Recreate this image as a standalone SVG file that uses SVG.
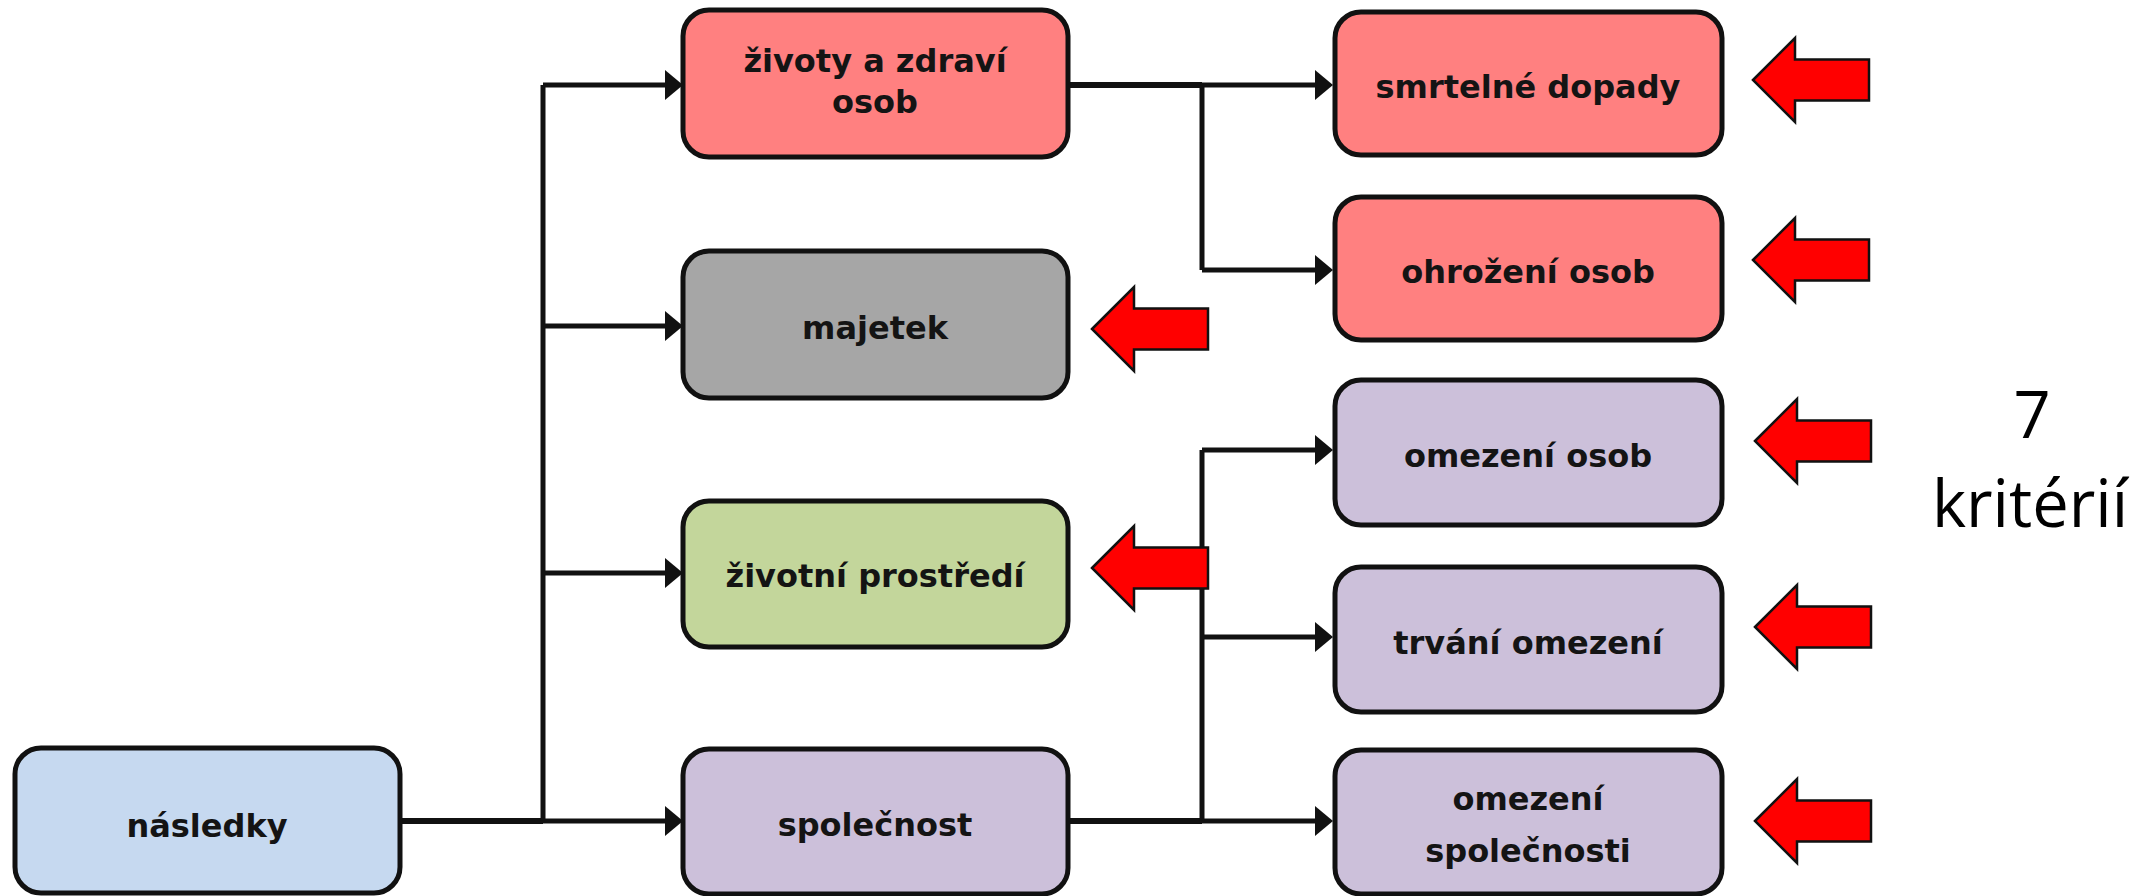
<svg xmlns="http://www.w3.org/2000/svg" width="2154" height="896" viewBox="0 0 2154 896">
  <defs>
    <style>
      .box { stroke: #111; stroke-width: 5; }
      .lbl { font-family: "DejaVu Sans", "Liberation Sans", sans-serif; font-weight: bold; font-size: 32px; fill: #141414; text-anchor: middle; }
      .wire { fill: none; stroke: #111; stroke-width: 5; }
      .trunk { fill: none; stroke: #111; stroke-width: 6; }
      .blue { fill: #c6d9f0; }
      .red { fill: #ff8080; }
      .grey { fill: #a6a6a6; }
      .green { fill: #c3d69b; }
      .violet { fill: #ccc0da; }
      .pointer { fill: #ff0000; stroke: #111; stroke-width: 2.5; stroke-linejoin: miter; }
      .note { font-family: "Open Sans", "Liberation Sans", sans-serif; font-size: 65px; fill: #000; text-anchor: middle; }
    </style>
    <marker id="head" markerUnits="userSpaceOnUse" markerWidth="18" markerHeight="30" refX="8" refY="15" orient="auto">
      <path d="M0,0 L18,15 L0,30 Z" fill="#111"/>
    </marker>
    <!-- block arrow pointing left, tip at the origin -->
    <polygon id="pointer" class="pointer" points="0,0 42,-42 42,-20.5 116,-20.5 116,20.5 42,20.5 42,42"/>
  </defs>

  <rect width="2154" height="896" fill="#fff"/>

  <!-- connectors -->
  <g id="connectors">
    <path class="trunk" d="M400,821 H543"/>
    <path class="wire" d="M543,85 V821"/>
    <path class="wire" d="M543,85 H673" marker-end="url(#head)"/>
    <path class="wire" d="M543,326 H673" marker-end="url(#head)"/>
    <path class="wire" d="M543,573 H673" marker-end="url(#head)"/>
    <path class="wire" d="M543,821 H673" marker-end="url(#head)"/>

    <path class="trunk" d="M1068,85 H1202"/>
    <path class="wire" d="M1202,85 V270"/>
    <path class="wire" d="M1202,85 H1323" marker-end="url(#head)"/>
    <path class="wire" d="M1202,270 H1323" marker-end="url(#head)"/>

    <path class="trunk" d="M1068,821 H1202"/>
    <path class="wire" d="M1202,450 V821"/>
    <path class="wire" d="M1202,450 H1323" marker-end="url(#head)"/>
    <path class="wire" d="M1202,637 H1323" marker-end="url(#head)"/>
    <path class="wire" d="M1202,821 H1323" marker-end="url(#head)"/>
  </g>

  <!-- root -->
  <g id="nasledky">
    <rect class="box blue" x="15" y="748" width="385" height="145" rx="26"/>
    <text class="lbl" x="207" y="837">následky</text>
  </g>

  <!-- first level -->
  <g id="zivoty-a-zdravi-osob">
    <rect class="box red" x="683" y="10" width="385" height="147" rx="26"/>
    <text class="lbl" x="875" y="72">životy a zdraví</text>
    <text class="lbl" x="875" y="113">osob</text>
  </g>
  <g id="majetek">
    <rect class="box grey" x="683" y="251" width="385" height="147" rx="26"/>
    <text class="lbl" x="875" y="339">majetek</text>
  </g>
  <g id="zivotni-prostredi">
    <rect class="box green" x="683" y="501" width="385" height="146" rx="26"/>
    <text class="lbl" x="875" y="587">životní prostředí</text>
  </g>
  <g id="spolecnost">
    <rect class="box violet" x="683" y="749" width="385" height="145" rx="26"/>
    <text class="lbl" x="875" y="836">společnost</text>
  </g>

  <!-- second level -->
  <g id="smrtelne-dopady">
    <rect class="box red" x="1335" y="12" width="387" height="143" rx="26"/>
    <text class="lbl" x="1528" y="98">smrtelné dopady</text>
  </g>
  <g id="ohrozeni-osob">
    <rect class="box red" x="1335" y="197" width="387" height="143" rx="26"/>
    <text class="lbl" x="1528" y="283">ohrožení osob</text>
  </g>
  <g id="omezeni-osob">
    <rect class="box violet" x="1335" y="380" width="387" height="145" rx="26"/>
    <text class="lbl" x="1528" y="467">omezení osob</text>
  </g>
  <g id="trvani-omezeni">
    <rect class="box violet" x="1335" y="567" width="387" height="145" rx="26"/>
    <text class="lbl" x="1528" y="654">trvání omezení</text>
  </g>
  <g id="omezeni-spolecnosti">
    <rect class="box violet" x="1335" y="750" width="387" height="144" rx="26"/>
    <text class="lbl" x="1528" y="810">omezení</text>
    <text class="lbl" x="1528" y="862">společnosti</text>
  </g>

  <!-- red pointers marking the criteria -->
  <g id="pointers">
    <use href="#pointer" x="1092" y="329"/>
    <use href="#pointer" x="1092" y="568"/>
    <use href="#pointer" x="1753" y="80"/>
    <use href="#pointer" x="1753" y="260"/>
    <use href="#pointer" x="1755" y="441"/>
    <use href="#pointer" x="1755" y="627"/>
    <use href="#pointer" x="1755" y="821"/>
  </g>

  <g id="criteria-count">
    <text class="note" x="2032" y="438">7</text>
    <text class="note" x="2030" y="527">kritérií</text>
  </g>
</svg>
